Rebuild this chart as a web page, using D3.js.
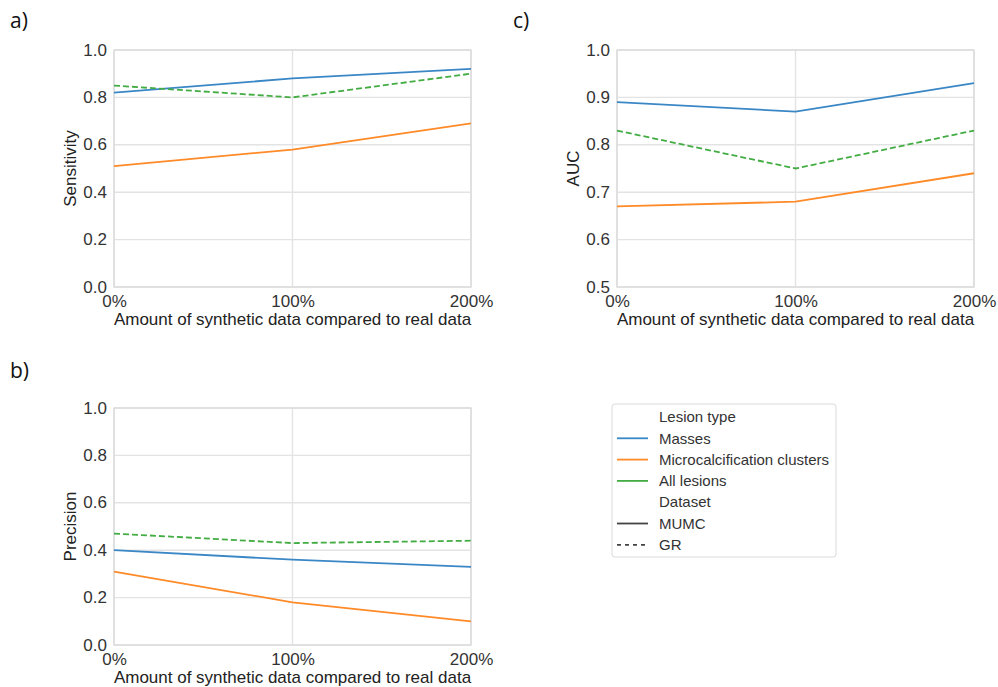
<!DOCTYPE html>
<html>
<head>
<meta charset="utf-8">
<script src="https://cdn.jsdelivr.net/npm/d3@7"></script>
<style>
  body { margin: 0; background: #fff; }
  svg text { font-family: "Liberation Sans", Arial, sans-serif; }
  .tick text { fill: #333; font-size: 17px; }
  .domain { display: none; }
</style>
</head>
<body>
<svg width="998" height="687"></svg>
<script>
// Data
const xValues = [0, 100, 200];
const xLabels = ["0%", "100%", "200%"];

const sensMasses = [0.82, 0.88, 0.92];
const sensMicro  = [0.51, 0.58, 0.69];
const sensAllGR  = [0.85, 0.80, 0.90];

const precMasses = [0.40, 0.36, 0.33];
const precMicro  = [0.31, 0.18, 0.10];
const precAllGR  = [0.47, 0.43, 0.44];

const aucMasses = [0.89, 0.87, 0.93];
const aucMicro  = [0.67, 0.68, 0.74];
const aucAllGR  = [0.83, 0.75, 0.83];

const ticks01 = [0, 0.2, 0.4, 0.6, 0.8, 1.0];
const ticksAuc = [0.5, 0.6, 0.7, 0.8, 0.9, 1.0];

const colors = { masses: "#3a87c6", micro: "#ff8a28", all: "#43ac43" };

const svg = d3.select("svg");

// panel layout
const panels = [
  { tag: "a)", tagX: 10, tagY: 28, left: 114, top: 50, yLabel: "Sensitivity",
    domain: [0, 1], ticks: ticks01,
    series: [[sensMasses, colors.masses, false], [sensMicro, colors.micro, false], [sensAllGR, colors.all, true]] },
  { tag: "c)", tagX: 513, tagY: 28, left: 617, top: 50, yLabel: "AUC",
    domain: [0.5, 1], ticks: ticksAuc,
    series: [[aucMasses, colors.masses, false], [aucMicro, colors.micro, false], [aucAllGR, colors.all, true]] },
  { tag: "b)", tagX: 10, tagY: 378, left: 114, top: 408, yLabel: "Precision",
    domain: [0, 1], ticks: ticks01,
    series: [[precMasses, colors.masses, false], [precMicro, colors.micro, false], [precAllGR, colors.all, true]] }
];

const pw = 357, ph = 237;

panels.forEach(p => {
  svg.append("text")
    .attr("x", p.tagX).attr("y", p.tagY)
    .style("font-size", "21px").style("font-family", "'Open Sans', sans-serif")
    .attr("fill", "#111")
    .text(p.tag);

  const g = svg.append("g").attr("transform", `translate(${p.left},${p.top})`);
  const x = d3.scaleLinear().domain([0, 200]).range([0, pw]);
  const y = d3.scaleLinear().domain(p.domain).range([ph, 0]);

  // grid
  g.append("g").selectAll("line").data(p.ticks).join("line")
    .attr("x1", 0).attr("x2", pw)
    .attr("y1", d => y(d)).attr("y2", d => y(d))
    .attr("stroke", "#e3e3e3").attr("stroke-width", 1.4);
  g.append("g").selectAll("line").data(xValues).join("line")
    .attr("x1", d => x(d)).attr("x2", d => x(d))
    .attr("y1", 0).attr("y2", ph)
    .attr("stroke", "#e3e3e3").attr("stroke-width", 1.4);
  g.append("rect").attr("width", pw).attr("height", ph)
    .attr("fill", "none").attr("stroke", "#dcdcdc").attr("stroke-width", 1.4);

  // axes
  g.append("g")
    .call(d3.axisLeft(y).tickValues(p.ticks).tickFormat(d3.format(".1f")).tickSize(0).tickPadding(7))
    .selectAll("text").attr("dy", "0.3em");
  g.append("g").attr("transform", `translate(0,${ph})`)
    .call(d3.axisBottom(x).tickValues(xValues).tickFormat((d, i) => xLabels[i]).tickSize(0).tickPadding(8));

  g.append("text")
    .attr("transform", `translate(-38,${ph / 2}) rotate(-90)`)
    .attr("text-anchor", "middle")
    .style("font-size", "17px").attr("fill", "#222")
    .text(p.yLabel);
  g.append("text")
    .attr("x", pw / 2).attr("y", ph + 38)
    .attr("text-anchor", "middle")
    .style("font-size", "17px").attr("fill", "#222")
    .text("Amount of synthetic data compared to real data");

  const line = d3.line().x((d, i) => x(xValues[i])).y(d => y(d));
  p.series.forEach(([vals, col, dashed]) => {
    g.append("path").datum(vals)
      .attr("d", line)
      .attr("fill", "none")
      .attr("stroke", col)
      .attr("stroke-width", 1.8)
      .attr("stroke-dasharray", dashed ? "6,3" : null);
  });
});

// legend
const legendItems = [
  { label: "Lesion type", color: null },
  { label: "Masses", color: colors.masses },
  { label: "Microcalcification clusters", color: colors.micro },
  { label: "All lesions", color: colors.all },
  { label: "Dataset", color: null },
  { label: "MUMC", color: "#444", dash: null },
  { label: "GR", color: "#444", dash: "4,4" }
];
const lg = svg.append("g").attr("transform", "translate(612,404)");
lg.append("rect").attr("width", 224).attr("height", 153).attr("rx", 3)
  .attr("fill", "#fff").attr("stroke", "#dadada").attr("stroke-width", 1);
legendItems.forEach((d, i) => {
  const cy = 13 + i * 21.3;
  if (d.color) {
    lg.append("line").attr("x1", 5).attr("x2", 36).attr("y1", cy).attr("y2", cy)
      .attr("stroke", d.color).attr("stroke-width", 1.8)
      .attr("stroke-dasharray", d.dash || null);
  }
  lg.append("text").attr("x", 47).attr("y", cy).attr("dy", "0.35em")
    .style("font-size", "15px").attr("fill", "#333").text(d.label);
});
</script>
</body>
</html>
